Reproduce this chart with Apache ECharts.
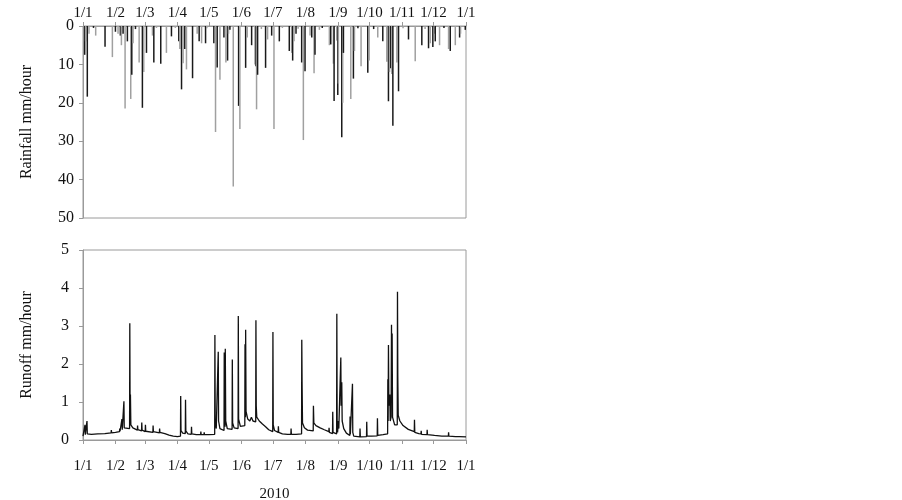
<!DOCTYPE html>
<html>
<head>
    <meta charset="utf-8">
    <title>Rainfall and runoff 2010</title>
    <style type="text/css">
        html, body { margin: 0; padding: 0; background: #fff; }
        #main { width: 902px; height: 500px; }
    </style>
    <script src="https://cdn.jsdelivr.net/npm/echarts@6/dist/echarts.min.js"></script>
</head>
<body>
<div id="main"></div>
<script type="text/javascript">
    // day of year (0 = 1 Jan 2010) where each month starts, and its label
    var monthStart = [0, 31, 59, 90, 120, 151, 181, 212, 243, 273, 304, 334, 365];
    var monthLabel = ['1/1', '1/2', '1/3', '1/4', '1/5', '1/6', '1/7', '1/8', '1/9', '1/10', '1/11', '1/12', '1/1'];

    // hourly rainfall peaks, mm/hour
    var rainDay = [1.6, 2.5, 4.1, 5.7, 10, 12.1, 21, 28, 30.9, 33.4, 35.6, 36.6, 38.2, 40.1, 42.3, 45.5, 46.5, 47.7,
        50, 53.5, 56.6, 57.9, 60.5, 66.2, 67.5, 70, 74.1, 79.5, 84.3, 88, 91.3, 92.3, 93.9, 95.4, 97, 98.6,
        104.4, 108.8, 110.7, 113, 116.8, 118, 124.7, 126.3, 127.9, 130.5, 134.3, 136.2, 137.8, 138.7, 140,
        143.2, 148.3, 149.5, 155, 156.5, 160.7, 163.9, 164.8, 165.4, 166.4, 170, 174, 175.9, 179.8, 182,
        187.1, 190, 196.6, 198.9, 199.8, 201.1, 203, 205, 208.4, 210, 211.6, 216.4, 218, 220.2, 221.1, 225.3,
        228, 234.8, 236.1, 238.6, 239.3, 241.8, 242.8, 243.4, 246.6, 247.5, 248.2, 255.2, 257.7, 258.7, 262,
        265, 271.4, 272.7, 277, 280.9, 285.7, 289.5, 291.1, 292.1, 293.3, 294.3, 295.3, 299.1, 300.7, 305,
        310.2, 316.6, 322.9, 326, 329.3, 330.9, 333.4, 335, 335.7, 339.8, 344, 348.4, 350, 354.8, 358.9,
        359.8, 364.3];
    var rainMm = [7.5, 4, 18.4, 2, 0.5, 2.5, 5.4, 8.1, 1.5, 2, 2.5, 5, 2, 21.5, 4, 19, 12.7, 4.5,
        0.8, 9.5, 21.3, 12, 7, 2.5, 9.5, 0.5, 9.8, 7, 2.7, 0.5, 4, 6, 16.5, 9.7, 6, 11.3,
        13.6, 2, 4, 4.5, 4.5, 0.6, 4.5, 27.6, 10.8, 14, 3, 9.5, 9, 2, 1,
        41.8, 20.8, 26.8, 10.9, 3, 5, 10, 10.5, 21.7, 12.7, 0.8, 10.9, 3.5, 2.5, 26.8,
        4, 0.5, 6.5, 7, 9, 4, 2, 0.7, 9.5, 29.7, 11.8, 2.5, 3, 12.3, 7.5, 1,
        0.5, 5, 4.8, 9.8, 19.5, 3.8, 18, 15, 29, 20, 7, 19, 13.7, 6.5, 0.6,
        10.5, 12.2, 9, 0.8, 3, 4, 9.3, 19.6, 12, 11, 12.5, 26, 9.5, 17, 0.6,
        3.5, 9.2, 5, 0.8, 5.8, 4.5, 5.5, 2, 4, 5, 0.5, 6, 6.5, 5, 3,
        2, 1];

    // runoff, [day of year, mm/hour]
    var runoff = [
        [0, 0.10], [1.7, 0.12], [1.9, 0.40], [2.2, 0.14], [3.6, 0.14], [3.8, 0.50], [4.1, 0.16], [8, 0.15],
        [14, 0.16], [20.8, 0.17], [21, 0.20], [21.3, 0.17], [26.8, 0.19], [27, 0.26], [27.3, 0.19], [31, 0.20],
        [34.8, 0.22], [35, 0.30], [35.3, 0.23], [36.9, 0.24], [37.1, 0.55], [37.4, 0.27], [38.8, 0.28], [39, 1.02],
        [39.3, 0.32], [44.4, 0.30], [44.6, 3.07], [44.9, 0.60], [45.2, 1.20], [45.6, 0.40], [46.5, 0.36], [47, 0.42],
        [47.5, 0.32], [51.8, 0.26], [52, 0.38], [52.3, 0.27], [55.8, 0.24], [56, 0.46], [56.3, 0.26], [59.3, 0.22],
        [59.5, 0.40], [59.8, 0.23], [66.6, 0.20], [66.8, 0.38], [67.1, 0.22], [72.8, 0.19], [73, 0.30], [73.3, 0.20],
        [78, 0.17], [82, 0.13], [86, 0.10], [90, 0.09], [92.9, 0.10], [93.1, 1.16], [93.4, 0.25], [95, 0.18],
        [97.5, 0.17], [97.7, 1.06], [98, 0.24], [100, 0.16], [103.2, 0.15], [103.4, 0.35], [103.7, 0.16], [108, 0.14],
        [112.1, 0.14], [112.3, 0.22], [112.6, 0.14], [115.3, 0.14], [115.5, 0.20], [115.8, 0.14], [120, 0.14],
        [125.5, 0.15], [125.7, 2.76], [126, 0.45], [127, 0.30], [128.7, 0.25], [128.9, 2.32], [129.2, 0.50],
        [130.5, 0.30], [134.4, 0.25], [134.6, 2.30], [134.9, 0.60], [135.4, 0.35], [135.6, 2.40], [136, 0.50],
        [137.5, 0.30], [142.1, 0.28], [142.3, 2.12], [142.6, 0.45], [144, 0.32], [147.8, 0.30], [148, 3.26],
        [148.3, 0.55], [150, 0.36], [154.2, 0.38], [154.4, 2.52], [154.7, 0.80], [154.8, 0.60], [155, 2.90],
        [155.4, 0.75], [157, 0.55], [159, 0.50], [160.5, 0.60], [162, 0.50], [164.6, 0.48], [164.8, 3.15],
        [165.1, 0.90], [165.6, 0.60], [168, 0.50], [171, 0.42], [174, 0.35], [177, 0.27], [180.8, 0.22], [181, 2.84],
        [181.3, 0.40], [182.5, 0.25], [186, 0.20], [186.2, 0.36], [186.5, 0.20], [190, 0.16], [195, 0.15],
        [198.1, 0.15], [198.3, 0.30], [198.6, 0.15], [203, 0.15], [208.3, 0.16], [208.5, 2.64], [208.8, 1.45],
        [209.2, 0.45], [211, 0.32], [214, 0.26], [219.4, 0.24], [219.6, 0.90], [220, 0.45], [222, 0.38], [226, 0.32],
        [230, 0.27], [234.3, 0.22], [234.5, 0.32], [234.8, 0.20], [237.8, 0.17], [238, 0.74], [238.3, 0.20],
        [241.7, 0.16], [241.9, 3.32], [242.2, 0.50], [242.6, 0.20], [243.4, 0.50], [243.8, 0.30], [245.5, 0.35],
        [245.7, 2.17], [246, 0.90], [246.6, 1.52], [247, 0.50], [248.5, 0.30], [251, 0.18], [254.3, 0.12],
        [254.5, 0.62], [254.8, 0.15], [256.6, 0.12], [256.8, 1.48], [257.1, 0.20], [258, 0.10], [263.8, 0.08],
        [264, 0.30], [264.3, 0.08], [270.2, 0.09], [270.4, 0.48], [270.7, 0.10], [275, 0.10], [280.4, 0.11],
        [280.6, 0.57], [280.9, 0.12], [286, 0.14], [290.3, 0.16], [290.5, 1.60], [290.8, 0.50], [291.1, 2.50],
        [291.5, 0.90], [292.4, 1.20], [292.8, 0.50], [293.6, 0.60], [294, 3.03], [294.3, 1.00], [294.6, 2.80],
        [295, 0.60], [297, 0.40], [299.5, 0.40], [299.7, 3.90], [300, 1.70], [300.4, 0.65], [302, 0.50], [305, 0.38],
        [310, 0.28], [315.7, 0.22], [315.9, 0.53], [316.2, 0.20], [320, 0.17], [322.1, 0.16], [322.3, 0.24],
        [322.6, 0.15], [327.8, 0.14], [328, 0.27], [328.3, 0.14], [335, 0.12], [342, 0.10], [348.2, 0.10],
        [348.4, 0.20], [348.7, 0.10], [355, 0.09], [358.7, 0.09], [358.9, 0.14], [359.2, 0.08], [365, 0.08]
    ];

    var rainData = rainDay.map(function (d, i) { return [d, rainMm[i]]; });

    var font = 'Liberation Serif';
    var axisGray = '#9a9a9a';
    var textStyle = { color: '#111', fontFamily: font, fontSize: 16 };

    function monthAxis(gridIndex, position, margin) {
        return {
            type: 'value',
            gridIndex: gridIndex,
            position: position,
            min: 0,
            max: 365,
            axisLine: { show: true, lineStyle: { color: axisGray } },
            axisTick: { show: true, length: 4, lineStyle: { color: axisGray }, customValues: monthStart },
            axisLabel: {
                color: '#111', fontFamily: font, fontSize: 15, margin: margin,
                customValues: monthStart,
                formatter: function (v) { return monthLabel[monthStart.indexOf(v)]; }
            },
            splitLine: { show: false }
        };
    }

    var myChart = echarts.init(document.getElementById('main'));

    var option = {
        backgroundColor: '#fff',
        animation: false,
        grid: [
            { left: 83, right: 436, top: 26, height: 192, outerBoundsMode: 'none',
              show: true, borderColor: axisGray, borderWidth: 1 },
            { left: 83, right: 436, top: 250, height: 190, outerBoundsMode: 'none',
              show: true, borderColor: axisGray, borderWidth: 1 }
        ],
        xAxis: [
            monthAxis(0, 'top', 5),
            Object.assign(monthAxis(1, 'bottom', 19), {
                name: '2010', nameLocation: 'middle', nameGap: 47,
                nameTextStyle: { color: '#111', fontFamily: font, fontSize: 15 }
            })
        ],
        yAxis: [
            {
                type: 'value', gridIndex: 0, inverse: true, min: 0, max: 50, interval: 10,
                name: 'Rainfall mm/hour', nameLocation: 'middle', nameGap: 48,
                nameTextStyle: textStyle,
                axisLine: { show: true, lineStyle: { color: axisGray } },
                axisTick: { show: true, length: 4, lineStyle: { color: axisGray } },
                axisLabel: { color: '#111', fontFamily: font, fontSize: 16, margin: 9 },
                splitLine: { show: false }
            },
            {
                type: 'value', gridIndex: 1, min: 0, max: 5, interval: 1,
                name: 'Runoff mm/hour', nameLocation: 'middle', nameGap: 48,
                nameTextStyle: textStyle,
                axisLine: { show: true, lineStyle: { color: axisGray } },
                axisTick: { show: true, length: 4, lineStyle: { color: axisGray } },
                axisLabel: { color: '#111', fontFamily: font, fontSize: 16, margin: 14 },
                splitLine: { show: false }
            }
        ],
        series: [
            {
                type: 'bar',
                xAxisIndex: 0,
                yAxisIndex: 0,
                barWidth: 1.5,
                itemStyle: {
                    // thin bars come out black or grey in the original scan
                    color: function (p) { return p.dataIndex % 2 ? '#a0a0a0' : '#1a1a1a'; }
                },
                data: rainData
            },
            {
                type: 'line',
                xAxisIndex: 1,
                yAxisIndex: 1,
                showSymbol: false,
                lineStyle: { color: '#111', width: 1.3 },
                data: runoff
            }
        ]
    };

    myChart.setOption(option);
</script>
</body>
</html>
